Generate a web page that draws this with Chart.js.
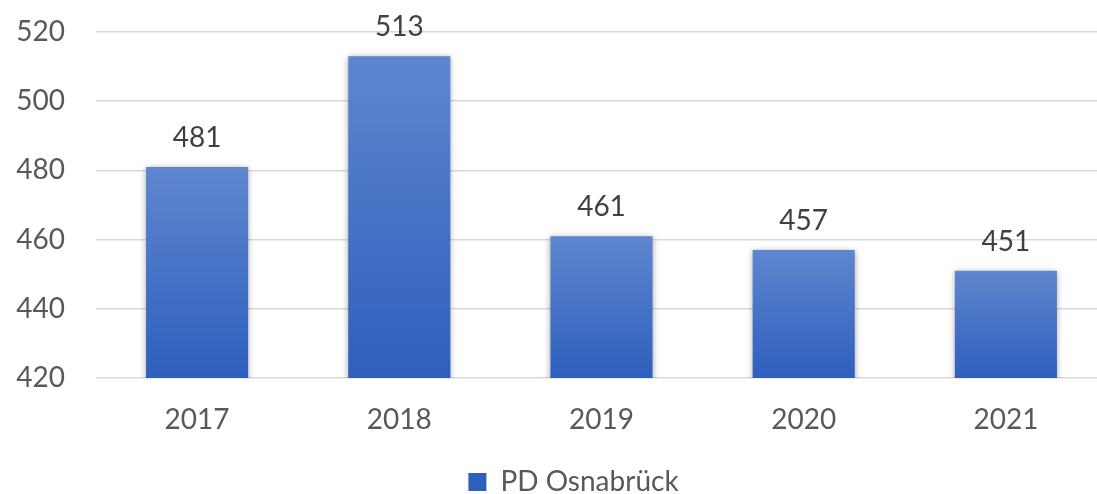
<!DOCTYPE html>
<html>
<head>
<meta charset="utf-8">
<script src="https://cdn.jsdelivr.net/npm/chart.js@4"></script>
<style>
  html, body { margin: 0; padding: 0; background: #fff; overflow: hidden; }
  #wrap { width: 1147px; height: 494px; }
</style>
</head>
<body>
<div id="wrap"><canvas id="chart"></canvas></div>
<script>
const years = ['2017', '2018', '2019', '2020', '2021'];
const values = [481, 513, 461, 457, 451];
const seriesName = 'PD Osnabrück';
const yMin = 420, yMax = 520, yStep = 20;

const FONT = 'Lato, "Open Sans", sans-serif';

// Excel-like vertical gradient per bar
function barFill(context) {
  const chart = context.chart;
  const y = chart.scales && chart.scales.y;
  if (!chart.chartArea || !y || context.raw === undefined) return '#4a78c8';
  const top = y.getPixelForValue(context.raw);
  const bottom = y.getPixelForValue(yMin);
  const g = chart.ctx.createLinearGradient(0, top, 0, bottom);
  g.addColorStop(0, '#5f86cf');
  g.addColorStop(1, '#2e5fbd');
  return g;
}

const barShadow = {
  id: 'barShadow',
  beforeDatasetsDraw(chart) {
    const ctx = chart.ctx;
    ctx.save();
    ctx.shadowColor = 'rgba(0,0,0,0.35)';
    ctx.shadowBlur = 6;
    ctx.shadowOffsetX = 0;
    ctx.shadowOffsetY = 1;
  },
  afterDatasetsDraw(chart) {
    chart.ctx.restore();
  }
};

const valueLabels = {
  id: 'valueLabels',
  afterDatasetsDraw(chart) {
    const ctx = chart.ctx;
    const meta = chart.getDatasetMeta(0);
    ctx.save();
    ctx.font = '28px ' + FONT;
    ctx.fillStyle = '#404040';
    ctx.textAlign = 'center';
    ctx.textBaseline = 'alphabetic';
    meta.data.forEach((bar, i) => {
      ctx.fillText(String(values[i]), bar.x, bar.y - 20);
    });
    ctx.restore();
  }
};

// the legend sits a bit right of the canvas centre
const legendShift = {
  id: 'legendShift',
  afterLayout(chart) {
    chart.legend.left += 20;
    chart.legend.right += 20;
  }
};

new Chart(document.getElementById('chart'), {
  type: 'bar',
  data: {
    labels: years,
    datasets: [{
      label: seriesName,
      data: values,
      backgroundColor: barFill,
      borderWidth: 0,
      barPercentage: 0.505,
      categoryPercentage: 1
    }]
  },
  options: {
    responsive: true,
    maintainAspectRatio: false,
    animation: false,
    layout: { padding: { top: 32, right: 40, left: 0, bottom: -12 } },
    plugins: {
      tooltip: { enabled: false },
      legend: {
        position: 'bottom',
        labels: {
          color: '#595959',
          font: { family: FONT, size: 28 },
          boxWidth: 18,
          boxHeight: 18,
          padding: 0
        }
      }
    },
    scales: {
      x: {
        grid: { display: false },
        border: { display: false },
        ticks: { color: '#595959', font: { family: FONT, size: 28 }, padding: 17 },
        afterFit(scale) { scale.height = 90; }
      },
      y: {
        min: yMin,
        max: yMax,
        ticks: { stepSize: yStep, color: '#595959', font: { family: FONT, size: 28 }, padding: 31 },
        grid: { color: '#d9d9d9', lineWidth: 1.5, drawTicks: false },
        border: { display: false },
        afterFit(scale) {
          scale.width = 96;
          scale.paddingTop = 0;
          scale.paddingBottom = 0;
        }
      }
    }
  },
  plugins: [barShadow, valueLabels, legendShift]
});
</script>
</body>
</html>
